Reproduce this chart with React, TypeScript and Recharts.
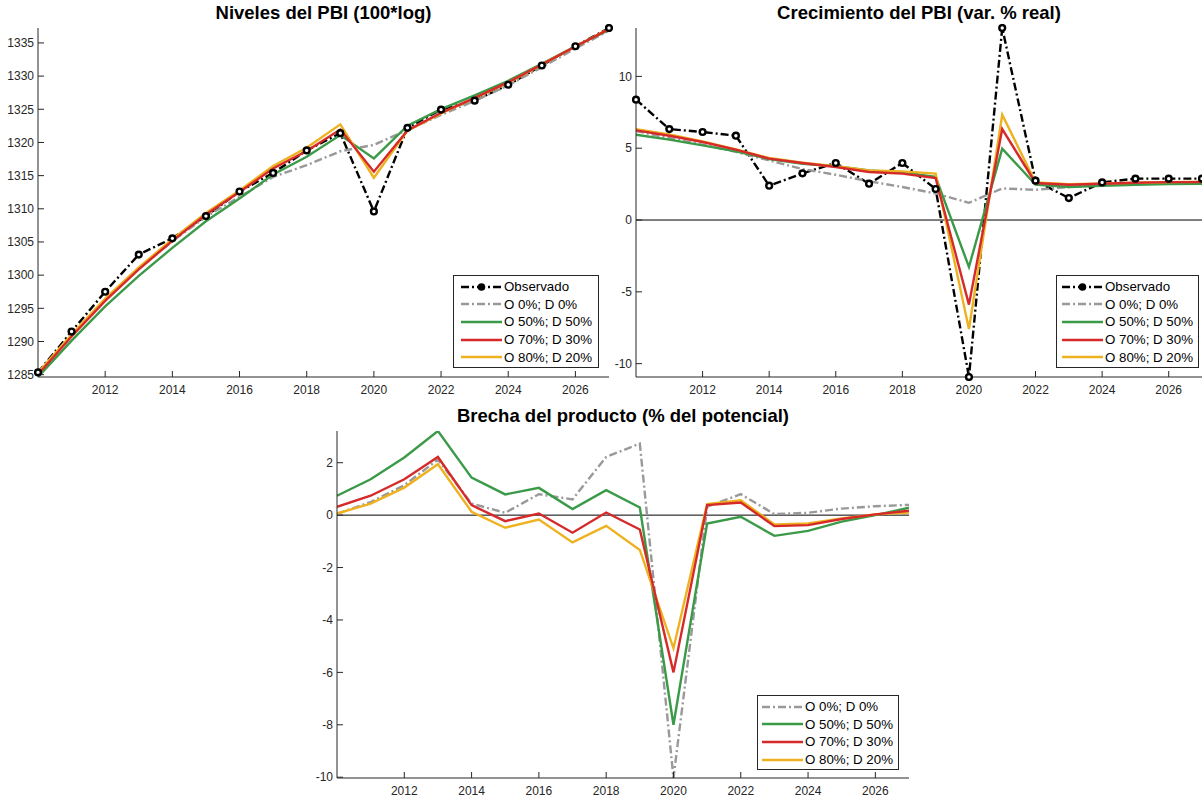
import { LineChart, Line, XAxis, YAxis, ReferenceLine } from "recharts"

// años del eje horizontal
const years = [2010, 2011, 2012, 2013, 2014, 2015, 2016, 2017, 2018, 2019, 2020, 2021, 2022, 2023, 2024, 2025, 2026, 2027]
const xTicks = [2012, 2014, 2016, 2018, 2020, 2022, 2024, 2026]

// Niveles del PBI (100*log)
const lvlObs = [1285.35, 1291.5, 1297.5, 1303.1, 1305.55, 1308.9, 1312.6, 1315.4, 1318.8, 1321.4, 1309.6, 1322.2, 1324.95, 1326.3, 1328.7, 1331.6, 1334.5, 1337.25]
const lvlO0 = [1285.3, 1291.0, 1296.36, 1300.98, 1305.11, 1308.81, 1311.8, 1314.8, 1316.58, 1318.67, 1319.63, 1321.88, 1324.15, 1326.26, 1328.61, 1331.35, 1334.16, 1336.86]
const lvlO50 = [1284.65, 1290.13, 1295.3, 1299.89, 1304.12, 1308.11, 1311.56, 1315.17, 1317.85, 1321.11, 1317.6, 1322.52, 1325.01, 1327.09, 1329.3, 1331.85, 1334.5, 1336.97]
const lvlO70 = [1285.03, 1290.76, 1296.13, 1300.88, 1305.17, 1309.13, 1312.54, 1316.07, 1318.7, 1321.95, 1315.6, 1321.82, 1324.47, 1326.72, 1329.08, 1331.75, 1334.47, 1337.08]
const lvlO80 = [1285.29, 1291.06, 1296.45, 1301.16, 1305.42, 1309.38, 1312.77, 1316.44, 1319.21, 1322.73, 1314.68, 1321.78, 1324.38, 1326.66, 1329.02, 1331.73, 1334.47, 1337.15]
const lvlTicks = [1285, 1290, 1295, 1300, 1305, 1310, 1315, 1320, 1325, 1330, 1335]

// Crecimiento del PBI (var. % real)
const grObs = [8.38, 6.33, 6.13, 5.87, 2.39, 3.25, 3.97, 2.53, 3.97, 2.16, -10.93, 13.37, 2.74, 1.53, 2.62, 2.88, 2.88, 2.88]
const grO0 = [6.2, 5.7, 5.25, 4.75, 4.15, 3.55, 3.15, 2.7, 2.3, 1.85, 1.2, 2.2, 2.1, 2.3, 2.45, 2.55, 2.6, 2.65]
const grO50 = [5.94, 5.6, 5.2, 4.78, 4.25, 3.92, 3.74, 3.46, 3.32, 3.0, -3.27, 4.97, 2.46, 2.3, 2.39, 2.46, 2.5, 2.53]
const grO70 = [6.24, 5.87, 5.43, 4.9, 4.27, 3.97, 3.69, 3.34, 3.23, 2.92, -5.89, 6.33, 2.58, 2.46, 2.53, 2.6, 2.64, 2.64]
const grO80 = [6.33, 5.96, 5.48, 4.92, 4.32, 3.99, 3.74, 3.46, 3.39, 3.23, -7.59, 7.33, 2.62, 2.5, 2.55, 2.6, 2.64, 2.67]
const grTicks = [-10, -5, 0, 5, 10]

// Brecha del producto (% del potencial)
const gapO0 = [0.05, 0.5, 1.14, 2.12, 0.44, 0.09, 0.8, 0.6, 2.22, 2.73, -10.03, 0.32, 0.8, 0.04, 0.09, 0.25, 0.34, 0.39]
const gapO50 = [0.74, 1.37, 2.2, 3.21, 1.43, 0.79, 1.04, 0.23, 0.95, 0.29, -8.0, -0.32, -0.06, -0.79, -0.6, -0.25, 0.0, 0.28]
const gapO70 = [0.32, 0.74, 1.37, 2.22, 0.38, -0.23, 0.06, -0.67, 0.1, -0.55, -6.0, 0.38, 0.48, -0.42, -0.38, -0.15, 0.03, 0.17]
const gapO80 = [0.06, 0.44, 1.05, 1.94, 0.13, -0.48, -0.17, -1.04, -0.41, -1.33, -5.08, 0.42, 0.57, -0.36, -0.32, -0.13, 0.03, 0.1]
const gapTicks = [-10, -8, -6, -4, -2, 0, 2]

const FONT = '"Liberation Sans", Arial, Helvetica, sans-serif'
const AXIS = "#262626"
const COLORS = { obs: "#000000", o0: "#999999", o50: "#3a9a48", o70: "#d62a2a", o80: "#eeb220" }
const OBS_DASH = "8 3 2 3"
const GRAY_DASH = "8 3 2 3"

const LABELS = {
  obs: "Observado",
  o0: "O 0%; D 0%",
  o50: "O 50%; D 50%",
  o70: "O 70%; D 30%",
  o80: "O 80%; D 20%",
}

type Key = "obs" | "o0" | "o50" | "o70" | "o80"

function build(series: Partial<Record<Key, number[]>>) {
  return years.map((year, i) => {
    const row: any = { year }
    for (const k of Object.keys(series) as Key[]) row[k] = series[k]![i]
    return row
  })
}

interface LegendPos {
  left: number
  top: number
  width: number
  inset: number
}

function LegendBox({ left, top, width, inset, keys }: LegendPos & { keys: Key[] }) {
  return (
    <div
      style={{
        position: "absolute",
        left,
        top,
        width,
        boxSizing: "border-box",
        padding: "2px 0 1px 0",
        border: `1px solid ${AXIS}`,
        background: "#fff",
        fontFamily: FONT,
        fontSize: 13.3,
        color: "#000",
      }}
    >
      {keys.map((k) => (
        <div key={k} style={{ height: 17.6, display: "flex", alignItems: "center" }}>
          <svg width={43} height={12} style={{ marginLeft: inset, flex: "none" }}>
            <line
              x1={0}
              x2={41}
              y1={6}
              y2={6}
              stroke={COLORS[k]}
              strokeWidth={2.4}
              strokeDasharray={k === "obs" ? OBS_DASH : k === "o0" ? GRAY_DASH : undefined}
            />
            {k === "obs" && <circle cx={20.5} cy={6} r={3.8} fill="#000" />}
          </svg>
          <span style={{ whiteSpace: "nowrap" }}>{LABELS[k]}</span>
        </div>
      ))}
    </div>
  )
}

interface PanelProps {
  plotX: number
  plotY: number
  plotW: number
  plotH: number
  title: string
  data: any[]
  domain: [number, number]
  ticks: number[]
  keys: Key[]
  zero?: boolean
  legend: LegendPos
}

function Panel({ plotX, plotY, plotW, plotH, title, data, domain, ticks, keys, zero, legend }: PanelProps) {
  const axisW = 50
  const padTop = 10
  const padRight = 4
  const xAxisH = 24
  const tickStyle = { fontSize: 12, fill: AXIS, fontFamily: FONT }
  const order: Key[] = ["obs", "o0", "o50", "o80", "o70"]

  return (
    <>
      <div
        style={{
          position: "absolute",
          left: plotX - 100,
          width: plotW + 200,
          top: plotY - 25,
          lineHeight: "20px",
          textAlign: "center",
          fontFamily: FONT,
          fontWeight: "bold",
          fontSize: 18.5,
          color: "#000",
        }}
      >
        {title}
      </div>
      <div style={{ position: "absolute", left: plotX - axisW, top: plotY - padTop }}>
        <LineChart
          width={axisW + plotW + padRight}
          height={padTop + plotH + xAxisH}
          data={data}
          margin={{ top: padTop, right: padRight, left: 0, bottom: 0 }}
        >
          <XAxis
            dataKey="year"
            type="number"
            domain={[2010, 2027]}
            ticks={xTicks}
            allowDataOverflow
            height={xAxisH}
            stroke={AXIS}
            tickSize={-6}
            tickMargin={14}
            tick={tickStyle}
            interval={0}
          />
          <XAxis
            xAxisId="top"
            orientation="top"
            type="number"
            domain={[2010, 2027]}
            ticks={xTicks}
            allowDataOverflow
            height={0}
            stroke={AXIS}
            tickSize={-6}
            tick={false}
            interval={0}
          />
          <YAxis
            type="number"
            domain={domain}
            ticks={ticks}
            allowDataOverflow
            width={axisW}
            stroke={AXIS}
            tickSize={-6}
            tickMargin={10}
            tick={tickStyle}
            interval={0}
          />
          <YAxis
            yAxisId="right"
            orientation="right"
            type="number"
            domain={domain}
            ticks={ticks}
            allowDataOverflow
            width={0}
            stroke={AXIS}
            tickSize={-6}
            tick={false}
            interval={0}
          />
          {zero && <ReferenceLine y={0} stroke="#000" strokeWidth={1} />}
          {order
            .filter((k) => keys.includes(k))
            .map((k) => (
              <Line
                key={k}
                type="linear"
                dataKey={k}
                stroke={COLORS[k]}
                strokeWidth={2.4}
                strokeDasharray={k === "obs" ? OBS_DASH : k === "o0" ? GRAY_DASH : undefined}
                dot={
                  k === "obs"
                    ? { r: 2.9, fill: "#fff", stroke: "#000", strokeWidth: 2.4, strokeDasharray: "none", clipDot: false }
                    : false
                }
                activeDot={false}
                isAnimationActive={false}
              />
            ))}
        </LineChart>
      </div>
      <LegendBox {...legend} keys={keys} />
    </>
  )
}

export default function App() {
  const levels = build({ obs: lvlObs, o0: lvlO0, o50: lvlO50, o70: lvlO70, o80: lvlO80 })
  const growth = build({ obs: grObs, o0: grO0, o50: grO50, o70: grO70, o80: grO80 })
  const gap = build({ o0: gapO0, o50: gapO50, o70: gapO70, o80: gapO80 })

  return (
    <div
      style={{
        position: "fixed",
        left: 0,
        top: 0,
        width: 1202,
        height: 801,
        background: "#fff",
        overflow: "hidden",
      }}
    >
      <Panel
        plotX={38}
        plotY={28}
        plotW={571}
        plotH={349}
        title="Niveles del PBI (100*log)"
        data={levels}
        domain={[1284.65, 1337.25]}
        ticks={lvlTicks}
        keys={["obs", "o0", "o50", "o70", "o80"]}
        legend={{ left: 453, top: 275, width: 146, inset: 7 }}
      />
      <Panel
        plotX={636}
        plotY={28}
        plotW={566}
        plotH={349}
        title="Crecimiento del PBI (var. % real)"
        data={growth}
        domain={[-10.93, 13.37]}
        ticks={grTicks}
        keys={["obs", "o0", "o50", "o70", "o80"]}
        zero
        legend={{ left: 1056, top: 275, width: 143, inset: 5 }}
      />
      <Panel
        plotX={337}
        plotY={431}
        plotW={572}
        plotH={347}
        title="Brecha del producto (% del potencial)"
        data={gap}
        domain={[-10.03, 3.21]}
        ticks={gapTicks}
        keys={["o0", "o50", "o70", "o80"]}
        zero
        legend={{ left: 757, top: 695, width: 142, inset: 4 }}
      />
    </div>
  )
}
